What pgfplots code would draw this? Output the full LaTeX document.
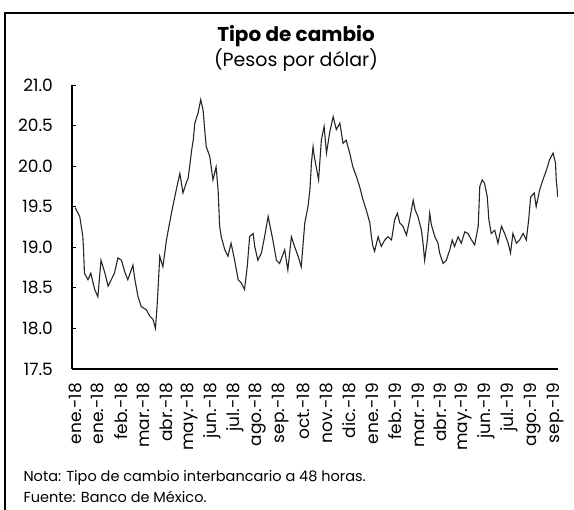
\documentclass[border=0pt]{standalone}
\usepackage{pgfplots}
\pgfplotsset{compat=1.18}
\usepackage{pgfplotstable}
\usepackage{fontspec}
\setmainfont{Poppins}
\pgfplotstableread{
day value
0 19.49
6 19.38
10 19.13
11 18.93
12 18.68
16.5 18.60
20 18.68
25 18.48
29 18.39
33 18.84
38 18.68
42 18.52
46 18.60
50 18.68
54.5 18.87
59 18.84
63 18.70
67 18.60
73.5 18.78
76 18.60
80 18.39
84 18.27
90.5 18.23
95 18.15
99 18.11
102 18.00
104 18.25
106 18.60
107.5 18.89
111.5 18.76
116 19.09
120 19.30
124 19.50
128.5 19.71
133 19.91
137 19.67
141 19.79
143.5 19.85
145.5 20.00
148 20.20
150 20.32
152 20.53
156 20.65
159.5 20.82
162.5 20.69
164.5 20.45
166.5 20.24
171 20.12
175 19.83
179 19.99
181.5 19.71
183.5 19.26
185.5 19.13
190 18.97
194 18.89
198 19.05
202.5 18.84
207 18.60
211 18.56
215 18.48
218.5 18.76
221.5 19.13
226 19.17
228 19.01
232 18.84
236.5 18.93
240.5 19.13
245 19.38
248.5 19.21
251 19.09
255.5 18.84
259.5 18.80
266 18.97
270 18.72
274.5 19.13
278.5 19.01
283 18.89
287 18.76
291.5 19.30
295.5 19.50
298 19.71
300 20.05
302 20.24
303.5 20.12
306 19.99
309 19.83
312.5 20.32
316 20.49
319 20.16
323 20.41
327.5 20.61
331.5 20.45
336 20.53
340 20.28
344 20.32
348.5 20.16
352.5 19.99
357 19.87
361 19.75
365.5 19.58
369.5 19.46
374 19.30
376 19.13
378 19.01
380 18.95
384.5 19.13
388.5 19.01
393 19.09
397 19.13
401.5 19.09
405.5 19.34
409 19.42
412 19.30
416 19.26
420.5 19.15
424.5 19.34
429 19.58
431.5 19.46
435 19.38
439.5 19.21
441.5 19.05
443.5 18.84
447 19.09
450 19.42
452 19.28
456.5 19.13
460.5 19.05
462.5 18.93
467 18.80
471 18.84
475.5 18.97
478.5 19.09
481.5 19.01
486 19.13
490 19.05
494.5 19.19
498.5 19.17
503 19.09
507 19.03
511.5 19.26
513.5 19.75
516.5 19.83
519.5 19.79
523 19.62
525 19.34
528 19.17
532.5 19.21
536.5 19.05
541 19.26
545 19.17
549.5 19.05
552.5 18.93
555.5 19.17
560 19.05
564 19.09
568.5 19.17
572.5 19.09
575.5 19.34
578 19.62
582.5 19.67
585 19.50
589.5 19.71
593.5 19.83
598 19.95
602 20.08
606.5 20.16
609.5 20.04
610.5 19.83
612.5 19.62
}\tcdata
\begin{document}
\begin{tikzpicture}
\path[use as bounding box] (0pt,-510pt) rectangle (574pt,0pt);
% frame lines
\draw[line width=1.6pt, black] (5pt,-510pt) -- (5pt,-13pt) -- (574pt,-13pt);
% titles
\node[font=\fontsize{20}{22}\selectfont\bfseries] at (296pt,-36pt) {Tipo de cambio};
\node[font=\fontsize{19}{22}\selectfont] at (296pt,-60pt) {(Pesos por dólar)};
\begin{axis}[
  at={(72pt,-369pt)}, anchor=south west,
  scale only axis, width=486pt, height=284pt,
  xmin=-3.8, xmax=612.7, ymin=17.5, ymax=21,
  axis x line=bottom, axis y line=left,
  axis line style={line width=1.3pt, -},
  ytick={17.5,18,18.5,19,19.5,20,20.5,21},
  xtick={0,29,...,609},
  xticklabels={ene.-18,ene.-18,feb.-18,mar.-18,abr.-18,may.-18,jun.-18,jul.-18,ago.-18,sep.-18,oct.-18,nov.-18,dic.-18,ene.-19,feb.-19,mar.-19,abr.-19,may.-19,jun.-19,jul.-19,ago.-19,sep.-19},
  tick align=inside,
  major tick length=4pt,
  x tick style={draw=none},
  y tick style={line width=1pt, black},
  xticklabel style={rotate=90, anchor=east, inner sep=0pt, font=\fontsize{17}{17}\selectfont},
  yticklabel style={anchor=east, inner sep=0pt, font=\fontsize{17}{17}\selectfont},
  xticklabel shift=14pt,
  yticklabel shift=19pt,
  /pgf/number format/.cd, fixed, fixed zerofill, precision=1, assume math mode=true,
]
\addplot[black!85, line width=1.1pt] table[x=day, y=value] {\tcdata};
\end{axis}
\node[anchor=west, font=\fontsize{14.5}{16}\selectfont] at (20pt,-478pt) {Nota: Tipo de cambio interbancario a 48 horas.};
\node[anchor=west, font=\fontsize{14.5}{16}\selectfont] at (20pt,-497pt) {Fuente: Banco de México.};
\end{tikzpicture}
\end{document}
